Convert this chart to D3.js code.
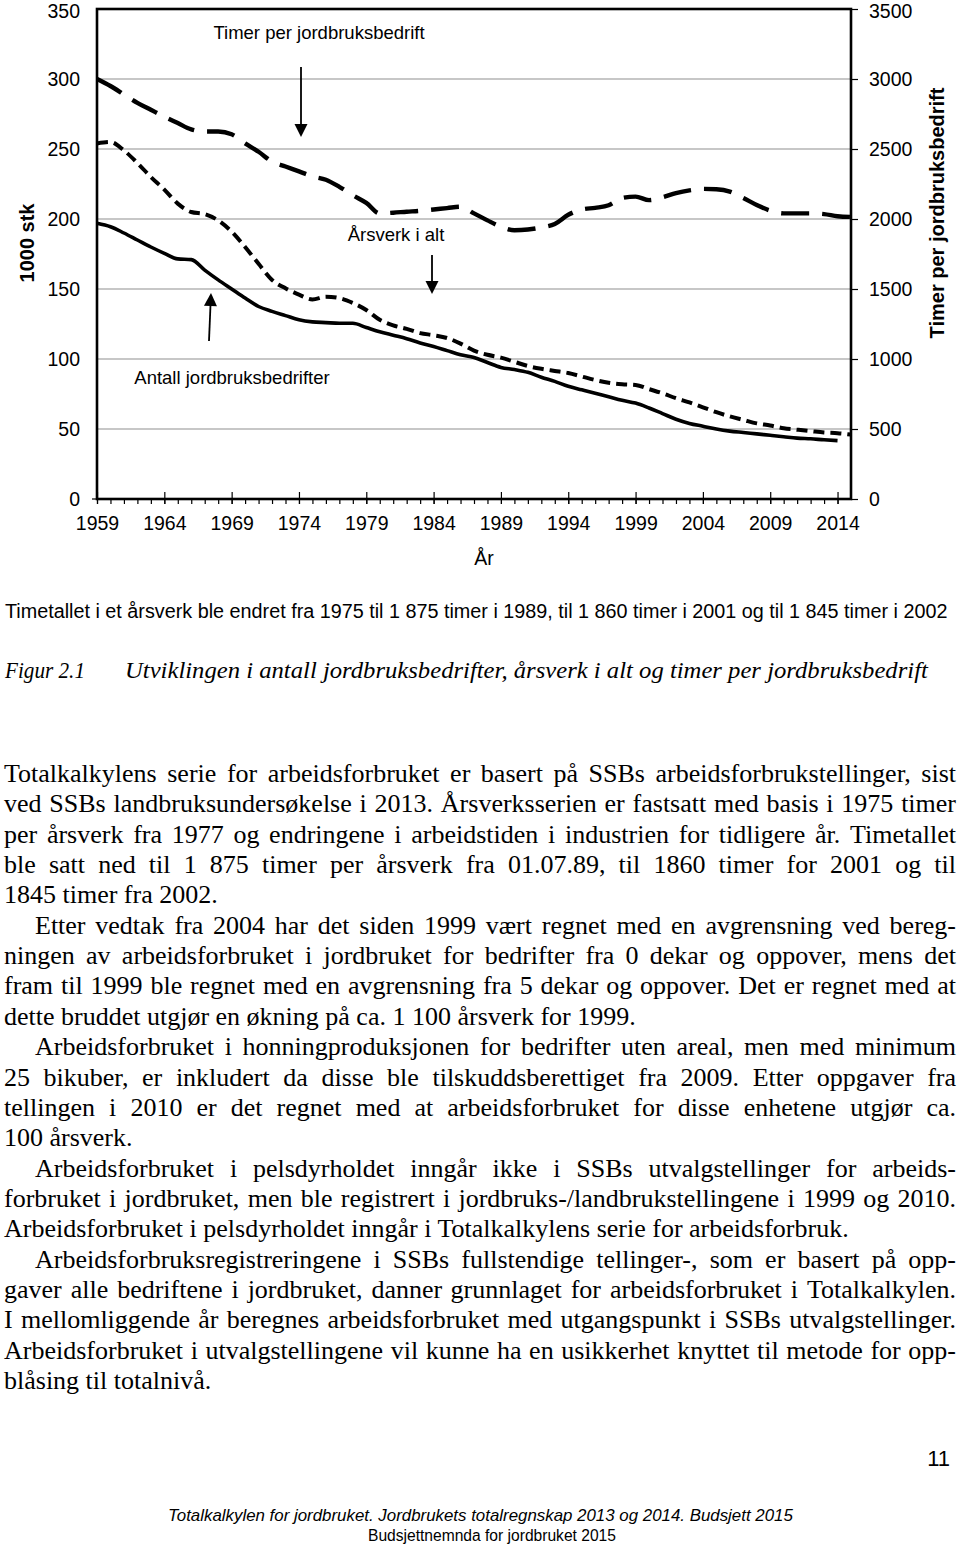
<!DOCTYPE html>
<html>
<head>
<meta charset="utf-8">
<script src="https://cdn.jsdelivr.net/npm/d3@7"></script>
<style>
  body { margin: 0; background: #fff; }
  svg { display: block; }
</style>
</head>
<body>
<script>
// values (1000 stk / timer)
const years = d3.range(1959, 2016);
const antall = [197, 194.5, 190, 185, 180, 175.5, 171.5, 171, 163.5, 156.5,
  150, 143.5, 137.5, 134, 131, 128, 126.5, 126, 125.5, 125.5,
  122.5, 119.5, 117, 114.5, 111.5, 109, 106, 103, 101, 97.5,
  94, 92.5, 90.5, 87, 84, 80.5, 78, 75.5, 73, 70.5,
  68.5, 65, 61, 57, 54, 52, 50, 48.5, 47.5, 46.5,
  45.5, 44.5, 43.5, 43, 42.3, 41.7];
const arsverk = [254, 255, 249, 240, 230, 221, 211, 205, 203.5, 199,
  191, 180, 168, 156.5, 150.5, 146, 142.5, 144.5, 143.5, 140,
  135, 128, 124, 121.5, 118.5, 117, 115, 111, 106, 103,
  101, 98, 95, 93, 91.5, 90, 87.5, 85, 83, 82,
  81.5, 78.5, 75.5, 72, 69, 65.5, 62, 59, 56.5, 54,
  52.5, 50.5, 49.5, 48.5, 47.5, 47, 46];
const timer = [3000, 2950, 2890, 2830, 2780, 2730, 2685, 2640, 2625, 2625,
  2605, 2540, 2480, 2410, 2375, 2340, 2305, 2280, 2230, 2170,
  2115, 2040, 2045, 2052, 2058, 2068, 2078, 2088, 2040, 1990,
  1945, 1920, 1925, 1940, 1965, 2030, 2068, 2080, 2098, 2150,
  2160, 2135, 2155, 2185, 2205, 2215, 2212, 2195, 2150, 2100,
  2060, 2040, 2040, 2040, 2035, 2020, 2015];

const xTicks = [1959, 1964, 1969, 1974, 1979, 1984, 1989, 1994, 1999, 2004, 2009, 2014];
const leftTicks = [0, 50, 100, 150, 200, 250, 300, 350];
const rightTicks = [0, 500, 1000, 1500, 2000, 2500, 3000, 3500];

const caption = "Timetallet i et årsverk ble endret fra 1975 til 1 875 timer i 1989, til 1 860 timer i 2001 og til 1 845 timer i 2002";
const figLabel = "Figur 2.1";
const figTitle = "Utviklingen i antall jordbruksbedrifter, årsverk i alt og timer per jordbruksbedrift";

// [text, indent, justify]
const bodyLines = [
  ["Totalkalkylens serie for arbeidsforbruket er basert på SSBs arbeidsforbrukstellinger, sist", 0, 1],
  ["ved SSBs landbruksundersøkelse i 2013. Årsverksserien er fastsatt med basis i 1975 timer", 0, 1],
  ["per årsverk fra 1977 og endringene i arbeidstiden i industrien for tidligere år. Timetallet", 0, 1],
  ["ble satt ned til 1 875 timer per årsverk fra 01.07.89, til 1860 timer for 2001 og til", 0, 1],
  ["1845 timer fra 2002.", 0, 0],
  ["Etter vedtak fra 2004 har det siden 1999 vært regnet med en avgrensning ved bereg-", 1, 1],
  ["ningen av arbeidsforbruket i jordbruket for bedrifter fra 0 dekar og oppover, mens det", 0, 1],
  ["fram til 1999 ble regnet med en avgrensning fra 5 dekar og oppover. Det er regnet med at", 0, 1],
  ["dette bruddet utgjør en økning på ca. 1 100 årsverk for 1999.", 0, 0],
  ["Arbeidsforbruket i honningproduksjonen for bedrifter uten areal, men med minimum", 1, 1],
  ["25 bikuber, er inkludert da disse ble tilskuddsberettiget fra 2009. Etter oppgaver fra", 0, 1],
  ["tellingen i 2010 er det regnet med at arbeidsforbruket for disse enhetene utgjør ca.", 0, 1],
  ["100 årsverk.", 0, 0],
  ["Arbeidsforbruket i pelsdyrholdet inngår ikke i SSBs utvalgstellinger for arbeids-", 1, 1],
  ["forbruket i jordbruket, men ble registrert i jordbruks-/landbrukstellingene i 1999 og 2010.", 0, 1],
  ["Arbeidsforbruket i pelsdyrholdet inngår i Totalkalkylens serie for arbeidsforbruk.", 0, 0],
  ["Arbeidsforbruksregistreringene i SSBs fullstendige tellinger-, som er basert på opp-", 1, 1],
  ["gaver alle bedriftene i jordbruket, danner grunnlaget for arbeidsforbruket i Totalkalkylen.", 0, 1],
  ["I mellomliggende år beregnes arbeidsforbruket med utgangspunkt i SSBs utvalgstellinger.", 0, 1],
  ["Arbeidsforbruket i utvalgstellingene vil kunne ha en usikkerhet knyttet til metode for opp-", 0, 1],
  ["blåsing til totalnivå.", 0, 0],
];

const footer1 = "Totalkalkylen for jordbruket. Jordbrukets totalregnskap 2013 og 2014. Budsjett 2015";
const footer2 = "Budsjettnemnda for jordbruket 2015";
const pageNo = "11";

const SANS = "'Liberation Sans', Arial, sans-serif";
const SERIF = "'Liberation Serif', 'Times New Roman', serif";

const svg = d3.select("body").append("svg")
    .attr("width", 960)
    .attr("height", 1549);

const margin = {top: 9, right: 109, bottom: 1050, left: 97};
const x = d3.scaleLinear().domain([1959, 2015]).range([margin.left, 960 - margin.right]);
const yL = d3.scaleLinear().domain([0, 350]).range([499, margin.top]);
const yR = d3.scaleLinear().domain([0, 3500]).range([499, margin.top]);

// gridlines
svg.append("g")
    .selectAll("line")
    .data(leftTicks.slice(1, -1))
    .enter().append("line")
    .attr("x1", x(1959)).attr("x2", x(2015))
    .attr("y1", d => yL(d)).attr("y2", d => yL(d))
    .attr("stroke", "#b4b4b4")
    .attr("stroke-width", 1.3);

// left axis labels
const gl = svg.append("g")
    .attr("transform", `translate(${x(1959)},0)`)
    .call(d3.axisLeft(yL).tickValues(leftTicks).tickSize(0).tickPadding(17));
gl.select(".domain").remove();

// right axis
const gr = svg.append("g")
    .attr("transform", `translate(${x(2015)},0)`)
    .call(d3.axisRight(yR).tickValues(rightTicks).tickSize(7).tickPadding(11).tickFormat(d3.format("d")));
gr.select(".domain").remove();

// bottom axis: minor ticks every year, major ticks crossing
const gmin = svg.append("g")
    .attr("transform", `translate(0,${yL(0)})`)
    .call(d3.axisBottom(x).tickValues(years.slice(0, -1)).tickSize(5).tickFormat(""));
gmin.select(".domain").remove();
const gup = svg.append("g")
    .attr("transform", `translate(0,${yL(0)})`)
    .call(d3.axisTop(x).tickValues(xTicks).tickSize(7).tickFormat(""));
gup.select(".domain").remove();
const gb = svg.append("g")
    .attr("transform", `translate(0,${yL(0)})`)
    .call(d3.axisBottom(x).tickValues(xTicks).tickSize(5).tickPadding(12).tickFormat(d3.format("d")));
gb.select(".domain").remove();

svg.selectAll(".tick line").attr("stroke", "#000").attr("stroke-width", 1.2);
svg.selectAll(".tick text")
    .attr("font-family", SANS)
    .attr("font-size", 19.5)
    .attr("fill", "#000");
// keep the topmost labels inside the page
gl.selectAll(".tick text").filter(d => d === 350).attr("dy", "0.45em");
gr.selectAll(".tick text").filter(d => d === 3500).attr("dy", "0.45em");

// plot frame
svg.append("rect")
    .attr("x", x(1959)).attr("y", yL(350))
    .attr("width", x(2015) - x(1959))
    .attr("height", yL(0) - yL(350))
    .attr("fill", "none")
    .attr("stroke", "#000")
    .attr("stroke-width", 2.6);
svg.append("line")
    .attr("x1", x(1959) - 5).attr("x2", x(1959))
    .attr("y1", yL(0)).attr("y2", yL(0))
    .attr("stroke", "#000").attr("stroke-width", 1.2);

// series
const lineL = d3.line().x(d => x(d[0])).y(d => yL(d[1])).curve(d3.curveMonotoneX);
const lineR = d3.line().x(d => x(d[0])).y(d => yR(d[1])).curve(d3.curveMonotoneX);

svg.append("path")
    .datum(antall.map((v, i) => [years[i], v]))
    .attr("d", lineL)
    .attr("fill", "none")
    .attr("stroke", "#000")
    .attr("stroke-width", 3.6);

svg.append("path")
    .datum(arsverk.map((v, i) => [years[i], v]))
    .attr("d", lineL)
    .attr("fill", "none")
    .attr("stroke", "#000")
    .attr("stroke-width", 4)
    .attr("stroke-dasharray", "11,6");

svg.append("path")
    .datum(timer.map((v, i) => [years[i], v]))
    .attr("d", lineR)
    .attr("fill", "none")
    .attr("stroke", "#000")
    .attr("stroke-width", 4.4)
    .attr("stroke-dasharray", "28,13");

// annotations with arrows
function arrow(x0, y0, x1, y1) {
    const a = Math.atan2(y1 - y0, x1 - x0), L = 13, w = 6.5;
    const bx = x1 - L * Math.cos(a), by = y1 - L * Math.sin(a);
    svg.append("line")
        .attr("x1", x0).attr("y1", y0).attr("x2", bx).attr("y2", by)
        .attr("stroke", "#000").attr("stroke-width", 1.8);
    svg.append("path")
        .attr("d", `M${x1},${y1}L${bx - w * Math.sin(a)},${by + w * Math.cos(a)}L${bx + w * Math.sin(a)},${by - w * Math.cos(a)}Z`)
        .attr("fill", "#000");
}

const notes = [
    ["Timer per jordbruksbedrift", 319, 39],
    ["Årsverk i alt", 396, 241],
    ["Antall jordbruksbedrifter", 232, 384],
];
svg.append("g").selectAll("text")
    .data(notes)
    .enter().append("text")
    .attr("x", d => d[1]).attr("y", d => d[2])
    .attr("text-anchor", "middle")
    .attr("font-family", SANS)
    .attr("font-size", 18.5)
    .text(d => d[0]);

arrow(301, 67, 301, 137);
arrow(432, 255, 432, 294);
arrow(209, 341, 211, 293);

// axis titles
svg.append("text")
    .attr("transform", "translate(34,243) rotate(-90)")
    .attr("text-anchor", "middle")
    .attr("font-family", SANS).attr("font-weight", "bold").attr("font-size", 20)
    .text("1000 stk");
svg.append("text")
    .attr("transform", "translate(944,213) rotate(-90)")
    .attr("text-anchor", "middle")
    .attr("font-family", SANS).attr("font-weight", "bold").attr("font-size", 20)
    .text("Timer per jordbruksbedrift");
svg.append("text")
    .attr("x", 484).attr("y", 565)
    .attr("text-anchor", "middle")
    .attr("font-family", SANS).attr("font-size", 19.5)
    .text("År");

// text squeezed horizontally to a given width with a scale transform
function fitText(str, x0, y0, width, attrs) {
    const t = svg.append("text").text(str);
    Object.entries(attrs).forEach(([k, v]) => t.attr(k, v));
    const w = t.node().getComputedTextLength();
    t.attr("transform", `translate(${x0},${y0}) scale(${width / w},1)`);
    return t;
}

// caption and figure title
fitText(caption, 5, 618, 943, {"font-family": "'Liberation Sans Narrow', " + SANS, "font-size": 21});
fitText(figLabel, 5, 678, 80, {"font-family": SERIF, "font-style": "italic", "font-size": 24});
fitText(figTitle, 125, 678, 803, {"font-family": SERIF, "font-style": "italic", "font-size": 24});

// body text, justified word by word
const body = svg.append("g")
    .attr("font-family", SERIF)
    .attr("font-size", 26);
const LEFT = 4, RIGHT = 956, INDENT = 31, LINE = 30.35, FIRST = 782, MINGAP = 4;

bodyLines.forEach(([txt, ind, just], i) => {
    const y = FIRST + i * LINE;
    const x0 = LEFT + (ind ? INDENT : 0);
    const avail = RIGHT - x0;
    const t = body.append("text").attr("y", y).attr("x", x0);
    if (!just) {
        t.text(txt);
        return;
    }
    const words = txt.split(" ");
    const spans = words.map(w => t.append("tspan").text(w));
    const widths = spans.map(s => s.node().getComputedTextLength());
    const total = d3.sum(widths);
    const gap = Math.max(MINGAP, (avail - total) / (words.length - 1));
    let cx = x0;
    spans.forEach((s, k) => {
        s.attr("x", cx);
        cx += widths[k] + gap;
    });
});

// footer
svg.append("text")
    .attr("x", 950).attr("y", 1466)
    .attr("text-anchor", "end")
    .attr("font-family", SANS).attr("font-size", 22)
    .text(pageNo);
fitText(footer1, 168, 1521, 625, {"font-family": SANS, "font-style": "italic", "font-size": 16});
fitText(footer2, 368, 1541, 248, {"font-family": SANS, "font-size": 16});
</script>
</body>
</html>
